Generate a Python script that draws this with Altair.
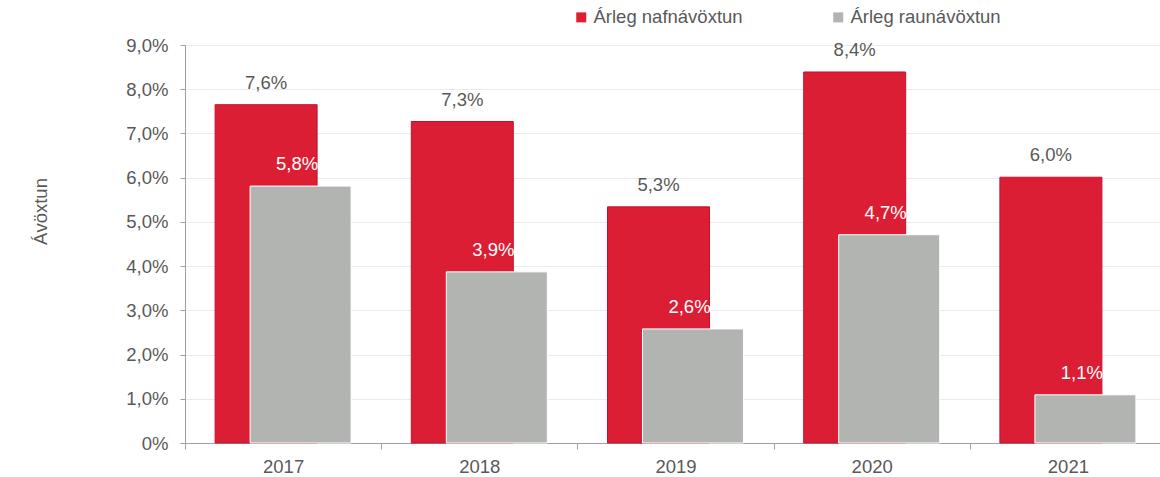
import altair as alt
import pandas as pd

years = ["2017", "2018", "2019", "2020", "2021"]
nominal = [7.65, 7.27, 5.34, 8.39, 6.01]
real = [5.81, 3.87, 2.58, 4.71, 1.09]
nominal_labels = ["7,6%", "7,3%", "5,3%", "8,4%", "6,0%"]
real_labels = ["5,8%", "3,9%", "2,6%", "4,7%", "1,1%"]
series_names = ["Árleg nafnávöxtun", "Árleg raunávöxtun"]
y_ticks = [0, 1, 2, 3, 4, 5, 6, 7, 8, 9]

rows = []
for y, v, l in zip(years, nominal, nominal_labels):
    rows.append({"year": y, "series": series_names[0], "value": v, "label": l})
for y, v, l in zip(years, real, real_labels):
    rows.append({"year": y, "series": series_names[1], "value": v, "label": l})
df = pd.DataFrame(rows)

RED = "#DC1E35"
GRAY = "#B2B4B2"
TXT = "#595959"
FONT = "Liberation Sans"
FS = 18.5

x_scale = alt.Scale(paddingInner=0, paddingOuter=0, range=[0, 981])

x_enc = alt.X("year:N", sort=years, scale=x_scale,
              axis=alt.Axis(title=None, labelAngle=0, labelFontSize=FS, labelColor=TXT,
                            labelFont=FONT, domainColor="#A0A0A0", tickColor="#A0A0A0",
                            tickSize=6, tickBand="extent", labelPadding=8, grid=False))
y_enc = alt.Y("value:Q", scale=alt.Scale(domain=[0, 9], nice=False),
              axis=alt.Axis(title="Ávöxtun", values=y_ticks,
                            labelExpr="datum.value == 0 ? '0%' : replace(format(datum.value, '.1f'), '.', ',') + '%'",
                            labelFontSize=FS, labelColor=TXT, labelFont=FONT,
                            domainColor="#A0A0A0", tickColor="#A0A0A0", tickSize=5,
                            labelPadding=12, gridColor="#EBEBEB", gridWidth=1,
                            titleFont=FONT, titleFontSize=FS, titleColor=TXT,
                            titleFontWeight="normal", titleAngle=-90, titleX=-145,
                            titleY=166, titleBaseline="middle", titleAlign="center"))

color_enc = alt.Color("series:N",
                      scale=alt.Scale(domain=series_names, range=[RED, GRAY]),
                      legend=alt.Legend(title=None, orient="none", direction="horizontal",
                                        legendX=387, legendY=-37, symbolType="square",
                                        symbolSize=100, symbolStrokeWidth=0,
                                        labelFontSize=FS, labelColor=TXT, labelFont=FONT,
                                        columnPadding=86, labelOffset=3))

base = alt.Chart(df)

red_bars = base.transform_filter(alt.datum.series == series_names[0]).mark_bar(
    width=102, xOffset=-17, stroke="#C8102E", strokeWidth=1
).encode(x=x_enc, y=y_enc, color=color_enc)

gray_bars = base.transform_filter(alt.datum.series == series_names[1]).mark_bar(
    width=101, xOffset=17.5, stroke="white", strokeWidth=1
).encode(x=x_enc, y=y_enc, color=color_enc)

red_text = base.transform_filter(alt.datum.series == series_names[0]).mark_text(
    dy=-22, xOffset=-17, fontSize=FS, color=TXT, font=FONT, baseline="middle"
).encode(x=alt.X("year:N", sort=years, scale=x_scale), y="value:Q", text="label:N")

gray_text = base.transform_filter(alt.datum.series == series_names[1]).mark_text(
    dy=-22, xOffset=14, fontSize=FS, color="white", font=FONT, baseline="middle"
).encode(x=alt.X("year:N", sort=years, scale=x_scale), y="value:Q", text="label:N")

chart = alt.layer(red_bars, gray_bars, red_text, gray_text).properties(
    width=975, height=398,
    autosize=alt.AutoSizeParams(type="none"),
    padding={"left": 185, "top": 45, "right": 0, "bottom": 34},
).configure_view(stroke=None).configure(background="white")

chart.save("out.html", embed_options={"renderer": "svg", "actions": False})
